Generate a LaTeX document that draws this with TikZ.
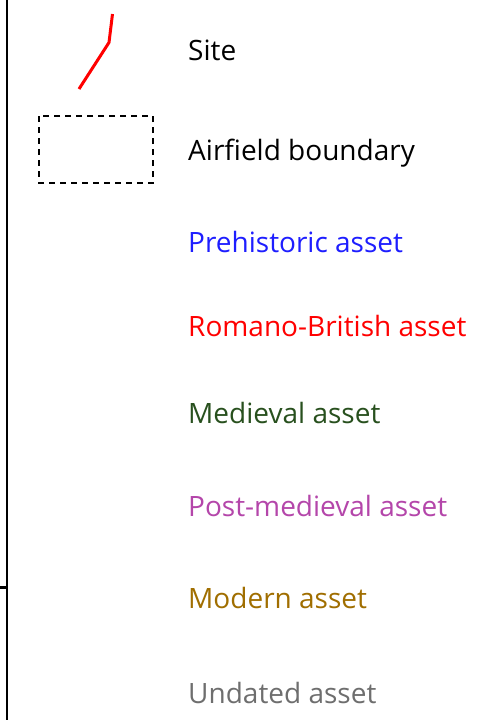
\documentclass[tikz,border=0pt]{standalone}
\usepackage{fontspec}
\setmainfont{Open Sans}
\usetikzlibrary{positioning}
\definecolor{prehist}{RGB}{30,30,255}
\definecolor{roman}{RGB}{255,0,0}
\definecolor{medieval}{RGB}{40,80,30}
\definecolor{postmed}{RGB}{180,70,170}
\definecolor{modern}{RGB}{160,110,0}
\definecolor{undated}{RGB}{110,110,110}
\tikzset{x=1pt, y=-1pt,
legend text/.style={anchor=base west, inner sep=0pt, font=\fontsize{28}{32}\selectfont},
}

\begin{document}
\begin{tikzpicture}
    \useasboundingbox (0,0) rectangle (493,720);
    % frame edge and tick
    \draw[line width=1.4pt] (7,0) -- (7,720);
    \draw[line width=3pt] (0,587) -- (7,587);
    % symbols
    \draw[red, line width=3pt] (112.5,14) -- (109,42.5) -- (79,89);
    \draw[line width=1.5pt, dash pattern=on 6pt off 5pt] (39,116) rectangle (153,183);
    % labels
    \node[legend text] (site) at (188,60) {Site};
    \node[legend text] (airfield) at (188,160) {Airfield boundary};
    \node[legend text, text=prehist] (prehist) at (188,252) {Prehistoric asset};
    \node[legend text, text=roman] (roman) at (188,336) {Romano-British asset};
    \node[legend text, text=medieval] (medieval) at (188,423) {Medieval asset};
    \node[legend text, text=postmed] (postmed) at (188,516) {Post-medieval asset};
    \node[legend text, text=modern] (modern) at (188,608) {Modern asset};
    \node[legend text, text=undated] (undated) at (188,703) {Undated asset};
\end{tikzpicture}
\end{document}
